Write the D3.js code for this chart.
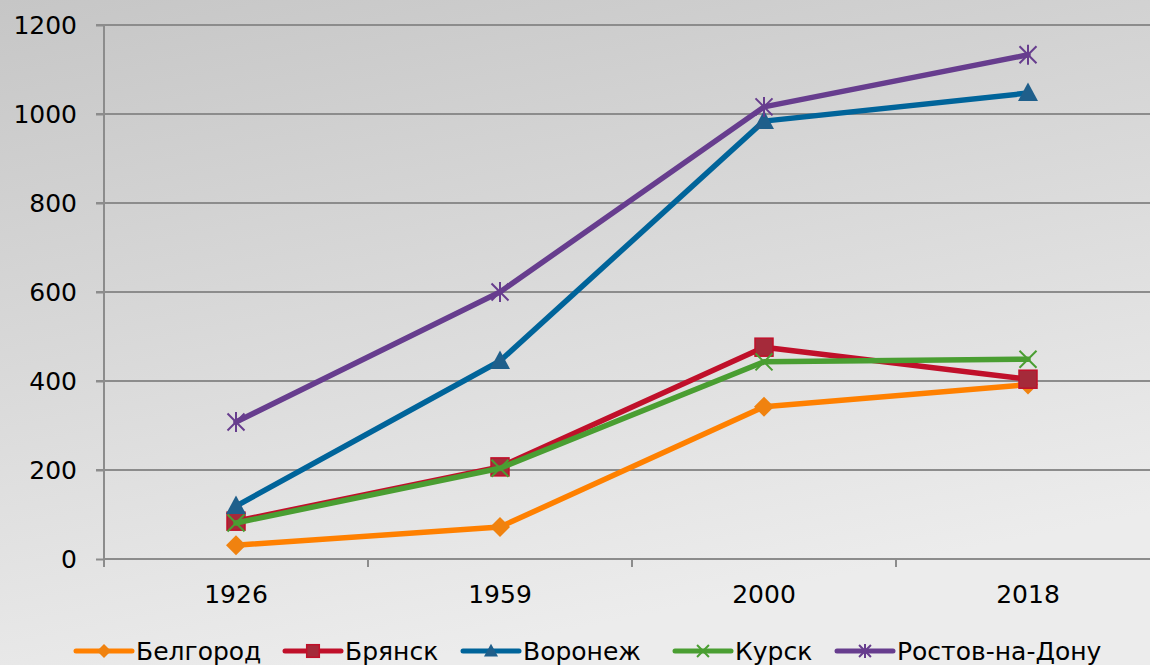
<!DOCTYPE html>
<html>
<head>
<meta charset="utf-8">
<script src="https://cdn.jsdelivr.net/npm/d3@7"></script>
<style>
  html, body { margin: 0; padding: 0; overflow: hidden; }
  svg { display: block; }
</style>
</head>
<body>
<svg id="chart-svg"></svg>
<script>
const years = ['1926', '1959', '2000', '2018']
const yTicks = [0, 200, 400, 600, 800, 1000, 1200]

const belgorod = [31, 72, 342, 392]
const bryansk = [85, 207, 476, 404]
const voronezh = [119, 445, 984, 1047]
const kursk = [81, 204, 443, 449]
const rostov = [308, 600, 1016, 1133]

const seriesNames = ['Белгород', 'Брянск', 'Воронеж', 'Курск', 'Ростов-на-Дону']
const seriesValues = [belgorod, bryansk, voronezh, kursk, rostov]

const W = 1150, H = 665
const FONT = '"DejaVu Sans", Verdana, sans-serif'
const Margin = { Top: 25, Left: 104, Bottom: 106 }
const plotRight = Margin.Left + 4 * 264

const styles = [
  { line: '#ff8000', fill: '#f0820f', stroke: '#f0820f', marker: 'diamond' },
  { line: '#c0102a', fill: '#a52a3a', stroke: '#c0102a', marker: 'square' },
  { line: '#00649a', fill: '#1f5f8b', stroke: '#1f5f8b', marker: 'triangle' },
  { line: '#4a9e32', fill: 'none', stroke: '#4a9e32', marker: 'x' },
  { line: '#673d8e', fill: 'none', stroke: '#673d8e', marker: 'star' }
]

const svg = d3.select('#chart-svg').attr('width', W).attr('height', H)

const defs = svg.append('defs')
const grad = defs.append('linearGradient').attr('id', 'bg')
  .attr('x1', '0').attr('y1', '0').attr('x2', '0.35').attr('y2', '1')
grad.append('stop').attr('offset', '0%').attr('stop-color', '#c6c6c6')
grad.append('stop').attr('offset', '100%').attr('stop-color', '#ececec')
svg.append('rect').attr('width', W).attr('height', H).attr('fill', 'url(#bg)')

const x = d3.scaleBand().domain(years).range([Margin.Left, plotRight])
const y = d3.scaleLinear().domain([0, 1200]).range([H - Margin.Bottom, Margin.Top])

// gridlines
svg.append('g')
  .selectAll('line').data(yTicks.filter(d => d > 0)).join('line')
  .attr('x1', Margin.Left - 8).attr('x2', plotRight)
  .attr('y1', d => y(d)).attr('y2', d => y(d))
  .attr('stroke', '#8c8c8c').attr('stroke-width', 2)

// y axis
const yAxis = svg.append('g')
  .attr('transform', 'translate(' + Margin.Left + ',0)')
  .call(d3.axisLeft(y).tickValues(yTicks).tickFormat(d3.format('d')).tickSize(8).tickPadding(19))
yAxis.attr('font-family', FONT).attr('font-size', 25)
yAxis.select('.domain').attr('stroke', '#8c8c8c').attr('stroke-width', 2)
  .attr('d', 'M0,' + y(0) + 'V' + y(1200))
yAxis.selectAll('.tick line').attr('stroke', '#8c8c8c').attr('stroke-width', 2)
yAxis.selectAll('.tick text').attr('fill', '#000').attr('dy', '0.35em')

// x axis
const xAxis = svg.append('g')
  .attr('transform', 'translate(0,' + y(0) + ')')
  .call(d3.axisBottom(x).tickSize(0))
xAxis.attr('font-family', FONT).attr('font-size', 25)
xAxis.select('.domain').attr('stroke', '#8c8c8c').attr('stroke-width', 2)
  .attr('d', 'M' + Margin.Left + ',0H' + plotRight)
xAxis.selectAll('.tick text').attr('fill', '#000').attr('y', 35).attr('dy', '0.35em')
svg.append('g').selectAll('line').data(d3.range(5)).join('line')
  .attr('x1', i => Margin.Left + i * x.step()).attr('x2', i => Margin.Left + i * x.step())
  .attr('y1', y(0)).attr('y2', y(0) + 8)
  .attr('stroke', '#8c8c8c').attr('stroke-width', 2)

function drawMarker(g, st, cx, cy, s) {
  if (st.marker === 'diamond') {
    g.append('path').attr('d', `M${cx},${cy - s}L${cx + s},${cy}L${cx},${cy + s}L${cx - s},${cy}Z`)
      .attr('fill', st.fill)
  } else if (st.marker === 'square') {
    g.append('rect').attr('x', cx - s * 0.9).attr('y', cy - s * 0.9)
      .attr('width', s * 1.8).attr('height', s * 1.8)
      .attr('fill', st.fill).attr('stroke', st.stroke).attr('stroke-width', 1.5)
  } else if (st.marker === 'triangle') {
    g.append('path').attr('d', `M${cx},${cy - s * 1.05}L${cx + s},${cy + s * 0.8}L${cx - s},${cy + s * 0.8}Z`)
      .attr('fill', st.fill)
  } else if (st.marker === 'x') {
    const d = s * 0.85
    g.append('path').attr('d', `M${cx - d},${cy - d}L${cx + d},${cy + d}M${cx - d},${cy + d}L${cx + d},${cy - d}`)
      .attr('stroke', st.stroke).attr('stroke-width', 2).attr('fill', 'none')
  } else if (st.marker === 'star') {
    const d = s * 0.85
    g.append('path').attr('d', `M${cx - d},${cy - d}L${cx + d},${cy + d}M${cx - d},${cy + d}L${cx + d},${cy - d}M${cx},${cy - s}L${cx},${cy + s}`)
      .attr('stroke', st.stroke).attr('stroke-width', 2).attr('fill', 'none')
  }
}

const valueLine = d3.line()
  .x((d, i) => x(years[i]) + x.bandwidth() / 2)
  .y(d => y(d))

seriesValues.forEach((vals, si) => {
  const st = styles[si]
  const g = svg.append('g')
  g.append('path').datum(vals)
    .attr('d', valueLine)
    .attr('fill', 'none').attr('stroke', st.line).attr('stroke-width', 5.5)
    .attr('stroke-linejoin', 'round').attr('stroke-linecap', 'round')
  vals.forEach((v, i) => drawMarker(g, st, x(years[i]) + x.bandwidth() / 2, y(v), 10))
})

// legend
const legendX = [76, 285, 463, 675, 837]
const legend = svg.append('g').attr('transform', 'translate(0,651)')
  .attr('font-family', FONT).attr('font-size', 25)
seriesNames.forEach((name, i) => {
  const st = styles[i]
  const g = legend.append('g').attr('transform', 'translate(' + legendX[i] + ',0)')
  g.append('line').attr('x1', 0).attr('x2', 56).attr('y1', 0).attr('y2', 0)
    .attr('stroke', st.line).attr('stroke-width', 5).attr('stroke-linecap', 'round')
  drawMarker(g, st, 28, 0, 7)
  g.append('text').attr('x', 60).attr('y', 0).attr('dy', '0.35em')
    .attr('fill', '#000').text(name)
})
</script>
</body>
</html>
